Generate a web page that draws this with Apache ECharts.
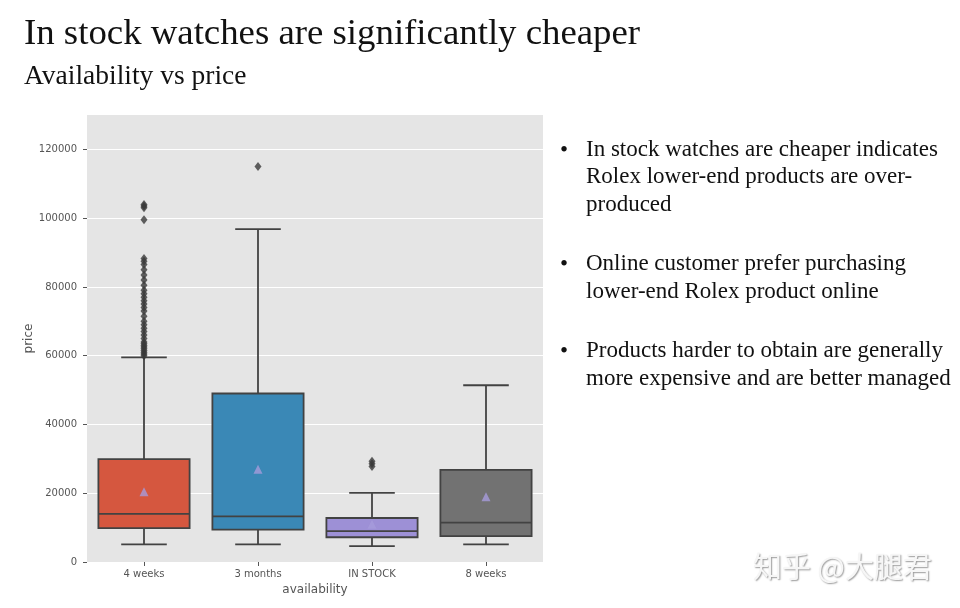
<!DOCTYPE html>
<html>
<head>
<meta charset="utf-8">
<script src="https://cdn.jsdelivr.net/npm/echarts@6/dist/echarts.min.js"></script>
<style>
html,body{margin:0;padding:0;background:#fff;}
#chart{width:960px;height:608px;}
</style>
</head>
<body>
<div id="chart"></div>
<script>
// ---- data ----
var categories = ['4 weeks', '3 months', 'IN STOCK', '8 weeks'];
var whiskerLow  = [5100, 5100, 4600, 5100];
var q1          = [9850, 9400, 7200, 7550];
var median      = [14000, 13250, 9000, 11450];
var q3          = [29900, 49000, 12800, 26800];
var whiskerHigh = [59500, 96800, 20100, 51400];
var means       = [20400, 27000, 11000, 19000];
var outliers4w = [60000, 60500, 61000, 61500, 62000, 62500, 63000, 63500, 64000, 65000,
  66000, 67000, 68000, 69000, 70000, 71500, 73000, 74000, 75000, 76000, 77000, 78000,
  79000, 80500, 82000, 83500, 85000, 86500, 87500, 88300, 99500, 103000, 103500, 104000];
var outliers3m = [115000];
var outliersStock = [27800, 28600, 29300];
var outliers8w = [];
var yTicks = [0, 20000, 40000, 60000, 80000, 100000, 120000];

var bulletBlocks = [
  ['In stock watches are cheaper indicates', 'Rolex lower-end products are over-', 'produced'],
  ['Online customer prefer purchasing', 'lower-end Rolex product online'],
  ['Products harder to obtain are generally', 'more expensive and are better managed']
];

// ---- styles ----
var boxColors = ['#D5573F', '#3A88B6', '#9D90D6', '#727272'];
var edge = '#424242';

var boxData = categories.map(function (c, i) {
  return [i, whiskerLow[i], q1[i], median[i], q3[i], whiskerHigh[i]];
});
var outlierData = [];
[outliers4w, outliers3m, outliersStock, outliers8w].forEach(function (arr, i) {
  arr.forEach(function (v) { outlierData.push([categories[i], v]); });
});
var meanData = categories.map(function (c, i) { return [c, means[i]]; });

function renderBox(params, api) {
  var idx = api.value(0);
  var band = api.size([1, 0])[0];
  var bw = band * 0.8, cw = band * 0.4;
  var pLow = api.coord([idx, api.value(1)]);
  var pQ1 = api.coord([idx, api.value(2)]);
  var pMed = api.coord([idx, api.value(3)]);
  var pQ3 = api.coord([idx, api.value(4)]);
  var pHigh = api.coord([idx, api.value(5)]);
  var x = pQ1[0];
  var ls = {stroke: edge, lineWidth: 1.8};
  return {
    type: 'group',
    children: [
      {type: 'line', shape: {x1: x, y1: pLow[1], x2: x, y2: pQ1[1]}, style: ls},
      {type: 'line', shape: {x1: x, y1: pQ3[1], x2: x, y2: pHigh[1]}, style: ls},
      {type: 'line', shape: {x1: x - cw / 2, y1: pLow[1], x2: x + cw / 2, y2: pLow[1]}, style: ls},
      {type: 'line', shape: {x1: x - cw / 2, y1: pHigh[1], x2: x + cw / 2, y2: pHigh[1]}, style: ls},
      {type: 'rect', shape: {x: x - bw / 2, y: pQ3[1], width: bw, height: pQ1[1] - pQ3[1]},
        style: {fill: boxColors[idx], stroke: edge, lineWidth: 1.8}},
      {type: 'line', shape: {x1: x - bw / 2, y1: pMed[1], x2: x + bw / 2, y2: pMed[1]}, style: ls}
    ]
  };
}

var graphics = [
  {type: 'text', left: 24, top: 16, style: {text: 'In stock watches are significantly cheaper',
    font: '36.8px "Liberation Serif", "Times New Roman", serif', fill: '#111'}},
  {type: 'text', left: 24, top: 63, style: {text: 'Availability vs price',
    font: '27.5px "Liberation Serif", "Times New Roman", serif', fill: '#111'}}
];
var lineH = 27.5, startY = 138, blockGap = 32;
var yCur = startY;
bulletBlocks.forEach(function (lines) {
  graphics.push({type: 'text', left: 560, top: yCur + 1, style: {text: '•',
    font: '23px "Liberation Serif", serif', fill: '#111'}});
  lines.forEach(function (ln, j) {
    graphics.push({type: 'text', left: 586, top: yCur + j * lineH, style: {text: ln,
      font: '23px "Liberation Serif", "Times New Roman", serif', fill: '#111'}});
  });
  yCur += lines.length * lineH + blockGap;
});
graphics.push({type: 'text', left: 753, top: 552, style: {text: '知乎 @大腿君',
  font: '29px "Noto Sans CJK SC", sans-serif', fill: '#f6f6f6',
  textShadowColor: 'rgba(0,0,0,0.4)', textShadowBlur: 1.5, textShadowOffsetX: 1, textShadowOffsetY: 1}});

var chart = echarts.init(document.getElementById('chart'), null, {renderer: 'canvas'});
chart.setOption({
  backgroundColor: '#ffffff',
  animation: false,
  grid: {left: 87, right: 417, top: 115, bottom: 46, show: true, backgroundColor: '#E5E5E5', borderWidth: 0},
  xAxis: {
    type: 'category', data: categories, boundaryGap: true,
    name: 'availability', nameLocation: 'middle', nameGap: 21,
    nameTextStyle: {fontSize: 12, color: '#555', fontFamily: 'DejaVu Sans'},
    axisLine: {show: false},
    axisTick: {show: true, alignWithLabel: true, length: 4, lineStyle: {color: '#555'}},
    axisLabel: {fontSize: 10, color: '#555', fontFamily: 'DejaVu Sans', margin: 7},
    splitLine: {show: false}
  },
  yAxis: {
    type: 'value', min: 0, max: 130000, interval: 20000,
    name: 'price', nameLocation: 'middle', nameGap: 50, nameRotate: 90,
    nameTextStyle: {fontSize: 12, color: '#555', fontFamily: 'DejaVu Sans'},
    axisLine: {show: false},
    axisTick: {show: true, length: 4, lineStyle: {color: '#555'}, customValues: yTicks},
    axisLabel: {fontSize: 10, color: '#555', fontFamily: 'DejaVu Sans', margin: 10,
      formatter: function (v) { return yTicks.indexOf(v) >= 0 ? String(v) : ''; }},
    splitLine: {show: true, lineStyle: {color: '#ffffff', width: 1.2}}
  },
  series: [
    {type: 'custom', renderItem: renderBox, data: boxData,
      encode: {x: 0, y: [1, 2, 3, 4, 5]}, z: 2},
    {type: 'scatter', data: outlierData, symbol: 'diamond', symbolSize: [7, 9],
      itemStyle: {color: '#3a3a3a'}, z: 3},
    {type: 'scatter', data: meanData, symbol: 'triangle', symbolSize: 9,
      itemStyle: {color: '#A69BDB'}, z: 4}
  ],
  graphic: graphics
});
</script>
</body>
</html>
